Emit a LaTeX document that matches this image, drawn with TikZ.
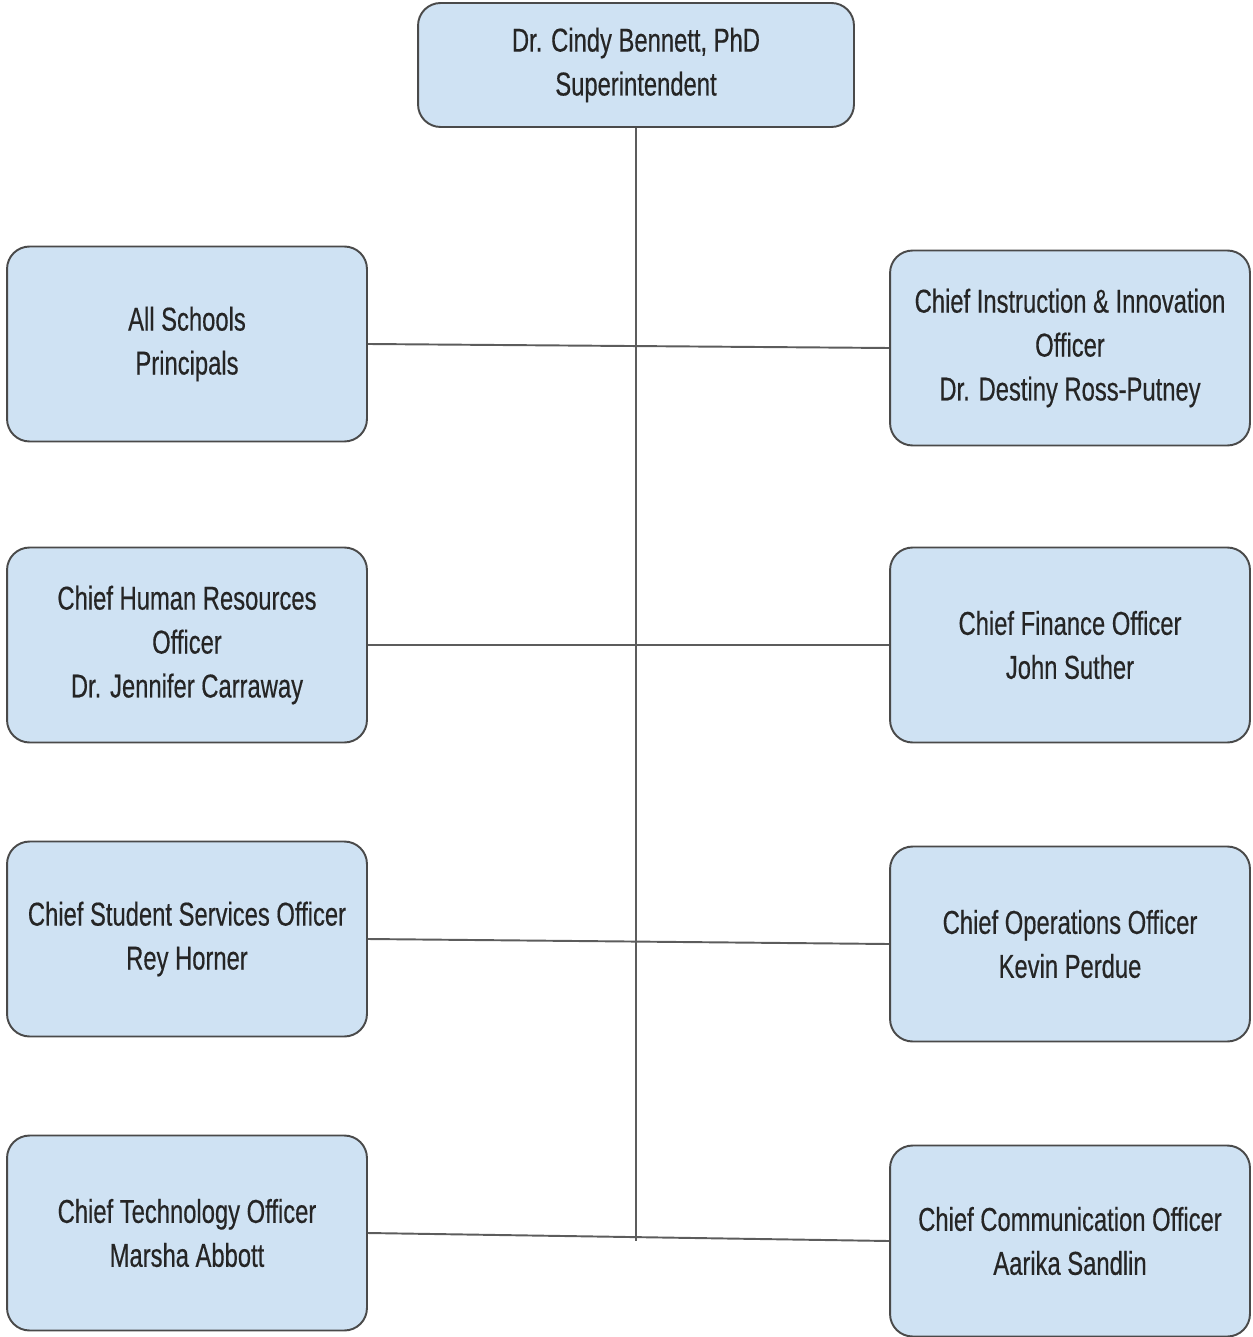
\documentclass[tikz,border=0pt]{standalone}
\usepackage{fontspec}
\setmainfont{Liberation Sans}[FakeStretch=0.72,FakeBold=0.4]
\usepackage{tikz}
\definecolor{boxblue}{HTML}{CFE2F3}
\definecolor{boxline}{HTML}{4A4A4A}
\definecolor{txt}{HTML}{252525}

\begin{document}
\begin{tikzpicture}[x=0.02cm,y=-0.02cm,
  box/.style={rectangle,rounded corners=0.45cm,draw=boxline,fill=boxblue,line width=1.1pt,
    align=center,text=txt,font=\fontsize{18.8}{25}\selectfont,
    minimum width=7.2cm,minimum height=3.9cm,inner sep=0pt,
    execute at begin node={\rule{0pt}{18.5pt}}},
  link/.style={draw=boxline!90,line width=1.1pt}]
\useasboundingbox (0,0) rectangle (1252,1337);
\path (636,65) node(top)[box,minimum width=8.72cm,minimum height=2.48cm]{Dr. Cindy Bennett, PhD\\ Superintendent}
(187,344) node(princ)[box]{All Schools\\ Principals}
(1070,348) node(cio)[box]{Chief Instruction \& Innovation\\ Officer\\ Dr. Destiny Ross-Putney}
(187,645) node(hr)[box]{Chief Human Resources\\ Officer\\ Dr. Jennifer Carraway}
(1070,645) node(cfo)[box]{Chief Finance Officer\\ John Suther}
(187,939) node(sso)[box]{Chief Student Services Officer\\ Rey Horner}
(1070,944) node(coo)[box]{Chief Operations Officer\\ Kevin Perdue}
(187,1233) node(cto)[box]{Chief Technology Officer\\ Marsha Abbott}
(1070,1241) node(cco)[box,minimum height=3.82cm]{Chief Communication Officer\\ Aarika Sandlin};
\draw[link](top.south)--(top.south |- cco.west);
\draw[link](princ.east)--(cio.west);
\draw[link](hr.east)--(cfo.west);
\draw[link](sso.east)--(coo.west);
\draw[link](cto.east)--(cco.west);
\end{tikzpicture}
\end{document}
